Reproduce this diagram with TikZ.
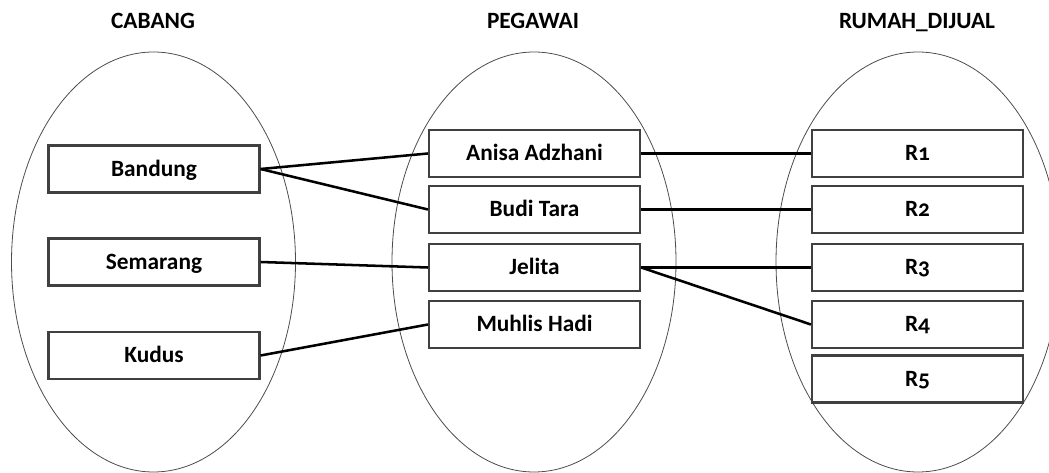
\documentclass[tikz,border=0pt]{standalone}
\usepackage{fontspec}
\setmainfont{Carlito}[Numbers=OldStyle]
\usetikzlibrary{shapes.geometric}
\begin{document}
\begin{tikzpicture}[x=0.75pt,y=-0.75pt,
  setshape/.style={ellipse, draw=black!70, line width=0.6pt, inner sep=0pt,
    minimum width=284*0.75pt, minimum height=420*0.75pt},
  item/.style={draw=black!75, line width=1.6pt, fill=white, inner sep=0pt,
    minimum width=158.25pt, minimum height=35.25pt,
    text height=11pt, text depth=0pt,
    font=\bfseries\fontsize{17.5}{20}\selectfont},
  title/.style={inner sep=0pt, text height=11pt, text depth=0pt,
    font=\bfseries\fontsize{17.5}{20}\selectfont},
  link/.style={line width=1.9pt}]
\useasboundingbox (0,0) rectangle (1049,473);
\clip (0,0) rectangle (1049,473);

% entity sets
\node[setshape] (setcabang) at (153.5,262) {};
\node[setshape] (setpegawai) at (534,262) {};
\node[setshape] (setrumah) at (918,262) {};

% titles
\node[title] (tcabang) at (153,21) {CABANG};
\node[title] (tpegawai) at (533,21) {PEGAWAI};
\node[title] (trumah) at (917,21) {RUMAH\_DIJUAL};

% CABANG members
\node[item] (bandung) at (154,169) {Bandung};
\node[item] (semarang) at (154,262) {Semarang};
\node[item] (kudus) at (154,355.5) {Kudus};

% PEGAWAI members
\node[item] (anisa) at (534.5,153.5) {Anisa Adzhani};
\node[item] (budi) at (534.5,209.5) {Budi Tara};
\node[item] (jelita) at (534.5,267.5) {Jelita};
\node[item] (muhlis) at (534.5,324.5) {Muhlis Hadi};

% RUMAH_DIJUAL members
\node[item] (r1) at (917.5,153.5) {R1};
\node[item] (r2) at (917.5,209.5) {R2};
\node[item] (r3) at (917.5,267.5) {R3};
\node[item] (r4) at (917.5,324.5) {R4};
\node[item] (r5) at (917.5,379) {R5};

% relationships
\draw[link] (bandung.east) -- (anisa.west);
\draw[link] (bandung.east) -- (budi.west);
\draw[link] (semarang.east) -- (jelita.west);
\draw[link] (kudus.east) -- (muhlis.west);
\draw[link] (anisa.east) -- (r1.west);
\draw[link] (budi.east) -- (r2.west);
\draw[link] (jelita.east) -- (r3.west);
\draw[link] (jelita.east) -- (r4.west);
\end{tikzpicture}
\end{document}
